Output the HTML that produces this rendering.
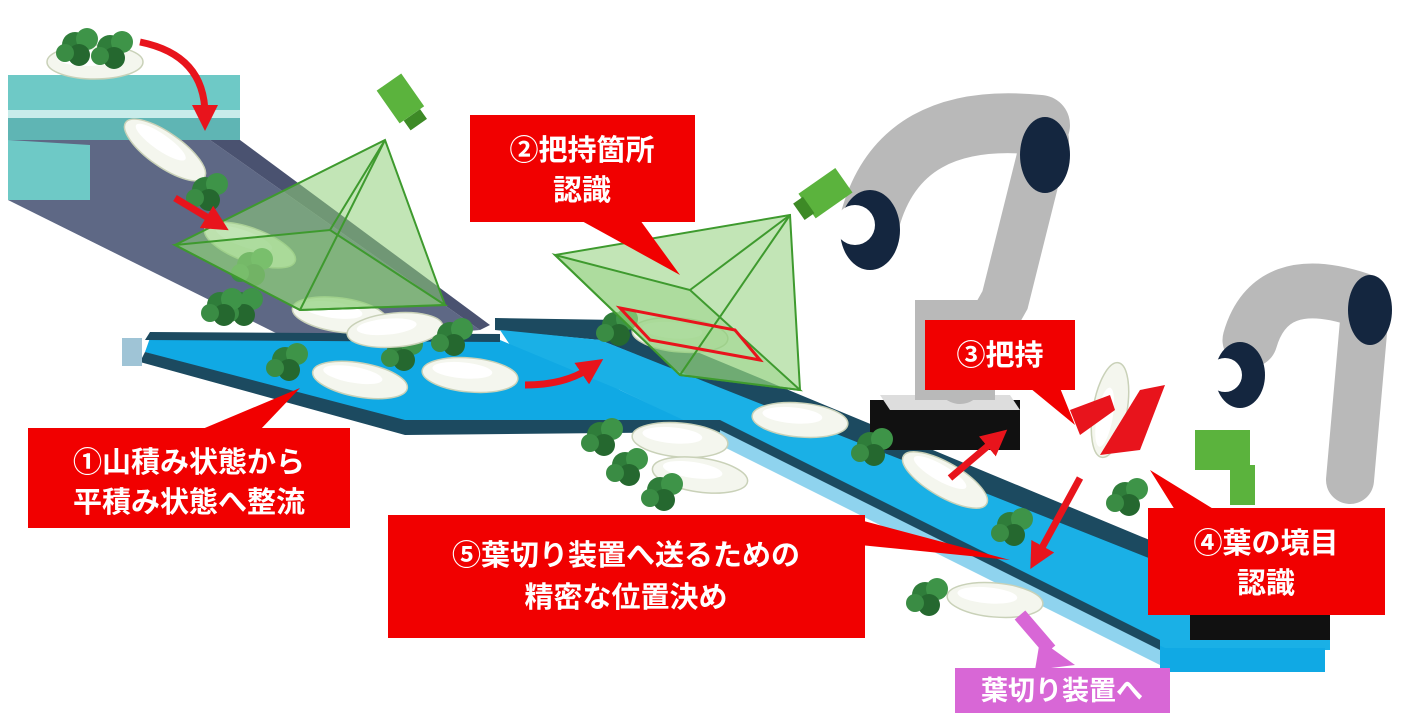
<!DOCTYPE html>
<html><head><meta charset="utf-8"><style>
html,body{margin:0;padding:0;background:#fff;}
svg{display:block;}
text{font-family:"Liberation Sans","Noto Sans CJK JP",sans-serif;font-weight:bold;fill:#fff;}
</style></head><body>
<svg width="1403" height="728" viewBox="0 0 1403 728" xmlns="http://www.w3.org/2000/svg">
<defs>
<marker id="ar" markerUnits="userSpaceOnUse" markerWidth="26" markerHeight="26" refX="10" refY="13" orient="auto"><path d="M0,0 L26,13 L0,26 z" fill="#e8141c"/></marker>
<g id="dk">
<ellipse cx="0" cy="0" rx="48" ry="17" fill="#f4f6ee" stroke="#c9d1b8" stroke-width="1.5"/>
<ellipse cx="-8" cy="-4" rx="30" ry="8" fill="#fff"/>
</g>
<g id="lf">
<circle cx="0" cy="0" r="13" fill="#2f7d3a"/><circle cx="12" cy="-6" r="11" fill="#3e9448"/><circle cx="4" cy="10" r="11" fill="#25682f"/><circle cx="-10" cy="8" r="9" fill="#3a8c44"/>
</g>
</defs>

<!-- top-left teal conveyor -->
<polygon points="8,75 240,75 240,110 8,110" fill="#6ec9c6"/>
<polygon points="8,110 240,110 240,118 8,118" fill="#c8ecea"/>
<polygon points="8,118 240,118 240,140 8,140" fill="#5fb5b4"/>
<!-- slide -->
<polygon points="8,140 210,140 480,330 300,345 8,200" fill="#5e6885"/>
<polygon points="8,140 90,145 90,200 8,200" fill="#6ec9c6"/>
<polygon points="210,140 240,140 490,325 480,330" fill="#4a5270"/>

<use href="#dk" x="95" y="62"/><use href="#lf" x="75" y="45"/><use href="#lf" x="110" y="48"/>
<g transform="translate(165,150) rotate(35)"><use href="#dk"/></g><use href="#lf" x="205" y="190"/>
<g transform="translate(250,245) rotate(20)"><use href="#dk"/></g><use href="#lf" x="250" y="265"/>

<!-- conveyor 2 -->
<polygon points="495,318 620,320 1330,615 1330,635 600,340 495,330" fill="#1c4a60"/>
<polygon points="500,330 600,340 1330,630 1330,650 1160,650 620,390 520,360" fill="#1ab0e6"/>
<!-- conveyor 1 -->
<polygon points="150,338 500,340 620,390 1165,648 1325,648 1325,660 1160,660 720,430 405,432 145,352" fill="#10a9e4"/>
<polygon points="145,352 405,420 405,435 140,362" fill="#1c4a60"/>
<polygon points="405,420 720,420 720,432 405,435" fill="#1c4a60"/>
<polygon points="720,420 1160,640 1160,655 720,432" fill="#1c4a60"/>
<polygon points="150,332 500,334 500,342 145,340" fill="#1c4a60"/>
<polygon points="1160,648 1325,648 1325,672 1160,672" fill="#10a9e4"/>
<polygon points="720,430 1160,650 1160,665 720,445" fill="#8fd3ee"/>
<rect x="122" y="338" width="20" height="28" fill="#9fc4d6"/>

<!-- robot bases -->
<polygon points="870,400 1020,400 1020,450 870,450" fill="#111"/>
<polygon points="880,395 1010,395 1020,410 890,410" fill="#ddd"/>
<polygon points="1190,540 1330,540 1330,640 1190,640" fill="#111"/>

<g transform="translate(340,315) rotate(8)"><use href="#dk"/></g><use href="#lf" x="240" y="305"/>
<g transform="translate(360,380) rotate(10)"><use href="#dk"/></g><use href="#lf" x="285" y="360"/>
<g transform="translate(470,375) rotate(5)"><use href="#dk"/></g><use href="#lf" x="400" y="350"/>
<g transform="translate(395,330) rotate(-5)"><use href="#dk"/></g><use href="#lf" x="450" y="335"/>
<use href="#lf" x="220" y="305"/>
<g transform="translate(800,420) rotate(5)"><use href="#dk"/></g><use href="#lf" x="870" y="445"/>
<g transform="translate(680,440) rotate(5)"><use href="#dk"/></g><use href="#lf" x="600" y="435"/>
<g transform="translate(700,475) rotate(8)"><use href="#dk"/></g><use href="#lf" x="625" y="465"/><use href="#lf" x="660" y="490"/>
<g transform="translate(945,480) rotate(30)"><use href="#dk"/></g><use href="#lf" x="1010" y="525"/>
<g transform="translate(995,600) rotate(5)"><use href="#dk"/></g><use href="#lf" x="925" y="595"/>
<g transform="translate(680,335) rotate(5)"><use href="#dk"/></g><use href="#lf" x="615" y="325"/>

<!-- pyramid 1 -->
<polygon points="385,140 175,245 300,310 445,305" fill="#8fcf7a" fill-opacity="0.55" stroke="#3e9a2e" stroke-width="2"/>
<polygon points="175,245 330,230 445,305 300,310" fill="#8fcf7a" fill-opacity="0.4" stroke="#3e9a2e" stroke-width="2"/>
<line x1="385" y1="140" x2="330" y2="230" stroke="#3e9a2e" stroke-width="2"/>
<line x1="385" y1="140" x2="300" y2="310" stroke="#3e9a2e" stroke-width="2"/>
<g transform="translate(405,105) rotate(-35)"><rect x="-15" y="-28" width="30" height="40" fill="#5bb33d"/><rect x="-10" y="12" width="20" height="12" fill="#3d8a26"/></g>
<!-- pyramid 2 -->
<polygon points="790,215 555,255 680,375 800,390" fill="#8fcf7a" fill-opacity="0.55" stroke="#3e9a2e" stroke-width="2"/>
<polygon points="555,255 690,290 800,390 680,375" fill="#8fcf7a" fill-opacity="0.4" stroke="#3e9a2e" stroke-width="2"/>
<line x1="790" y1="215" x2="690" y2="290" stroke="#3e9a2e" stroke-width="2"/>
<line x1="790" y1="215" x2="680" y2="375" stroke="#3e9a2e" stroke-width="2"/>
<polygon points="620,308 735,330 760,360 650,340" fill="none" stroke="#e8141c" stroke-width="3"/>

<!-- robot arm 1 -->
<path d="M870,220 Q900,110 1040,125" stroke="#b9b9b9" stroke-width="60" fill="none" stroke-linecap="round"/>
<path d="M1045,140 L1005,300 L960,380" stroke="#b9b9b9" stroke-width="48" fill="none" stroke-linecap="round"/>
<ellipse cx="1045" cy="155" rx="25" ry="38" fill="#14263f"/>
<ellipse cx="870" cy="230" rx="30" ry="40" fill="#14263f"/>
<circle cx="855" cy="225" r="20" fill="#fff"/>
<g transform="translate(830,190) rotate(-35)"><rect x="-28" y="-15" width="45" height="30" fill="#5bb33d"/><rect x="-38" y="-10" width="12" height="20" fill="#3d8a26"/></g>
<rect x="915" y="300" width="80" height="100" fill="#b9b9b9"/>

<!-- robot arm 2 -->
<path d="M1250,340 Q1270,270 1360,300" stroke="#b9b9b9" stroke-width="55" fill="none" stroke-linecap="round"/>
<path d="M1365,310 L1350,480" stroke="#b9b9b9" stroke-width="48" fill="none" stroke-linecap="round"/>
<ellipse cx="1370" cy="310" rx="22" ry="35" fill="#14263f"/>
<ellipse cx="1240" cy="375" rx="25" ry="33" fill="#14263f"/>
<circle cx="1225" cy="375" r="17" fill="#fff"/>
<rect x="1195" y="430" width="55" height="40" fill="#5bb33d"/><rect x="1230" y="465" width="25" height="40" fill="#5bb33d"/>
<g transform="translate(1110,410) rotate(-80)"><use href="#dk"/></g><use href="#lf" x="1125" y="495"/>
<polygon points="1070,410 1110,395 1115,410 1080,435" fill="#e8141c"/>
<polygon points="1140,390 1165,385 1140,450 1100,455" fill="#e8141c"/>

<!-- red arrows -->
<path d="M140,42 Q205,55 205,115" stroke="#e8141c" stroke-width="7" fill="none" marker-end="url(#ar)"/>
<path d="M175,198 L215,222" stroke="#e8141c" stroke-width="7" fill="none" marker-end="url(#ar)"/>
<path d="M525,385 Q565,385 590,368" stroke="#e8141c" stroke-width="7" fill="none" marker-end="url(#ar)"/>
<path d="M950,478 L995,440" stroke="#e8141c" stroke-width="7" fill="none" marker-end="url(#ar)"/>
<path d="M1080,478 L1038,555" stroke="#e8141c" stroke-width="7" fill="none" marker-end="url(#ar)"/>
<path d="M1020,615 L1050,650" stroke="#d867d6" stroke-width="14" fill="none"/>
<polygon points="1040,640 1075,665 1035,670" fill="#d867d6"/>

<!-- callouts -->
<polygon points="200,430 300,388 260,430" fill="#f10000"/>
<rect x="28" y="428" width="322" height="100" fill="#f10000"/>
<text x="189" y="472" font-size="29" text-anchor="middle">①山積み状態から</text>
<text x="189" y="512" font-size="29" text-anchor="middle">平積み状態へ整流</text>

<polygon points="580,220 680,275 640,220" fill="#f10000"/>
<rect x="470" y="115" width="225" height="107" fill="#f10000"/>
<text x="582" y="160" font-size="29" text-anchor="middle">②把持箇所</text>
<text x="582" y="200" font-size="29" text-anchor="middle">認識</text>

<polygon points="1030,388 1075,425 1060,388" fill="#f10000"/>
<rect x="925" y="320" width="150" height="70" fill="#f10000"/>
<text x="1000" y="365" font-size="29" text-anchor="middle">③把持</text>

<polygon points="1150,470 1215,510 1175,510" fill="#f10000"/>
<rect x="1148" y="508" width="237" height="107" fill="#f10000"/>
<text x="1266" y="553" font-size="29" text-anchor="middle">④葉の境目</text>
<text x="1266" y="593" font-size="29" text-anchor="middle">認識</text>

<polygon points="860,520 1010,560 860,545" fill="#f10000"/>
<rect x="388" y="515" width="477" height="123" fill="#f10000"/>
<text x="626" y="565" font-size="29" text-anchor="middle">⑤葉切り装置へ送るための</text>
<text x="626" y="607" font-size="29" text-anchor="middle">精密な位置決め</text>

<rect x="955" y="668" width="215" height="45" fill="#d867d6"/>
<text x="1062" y="700" font-size="27" text-anchor="middle">葉切り装置へ</text>
</svg>
</body></html>
